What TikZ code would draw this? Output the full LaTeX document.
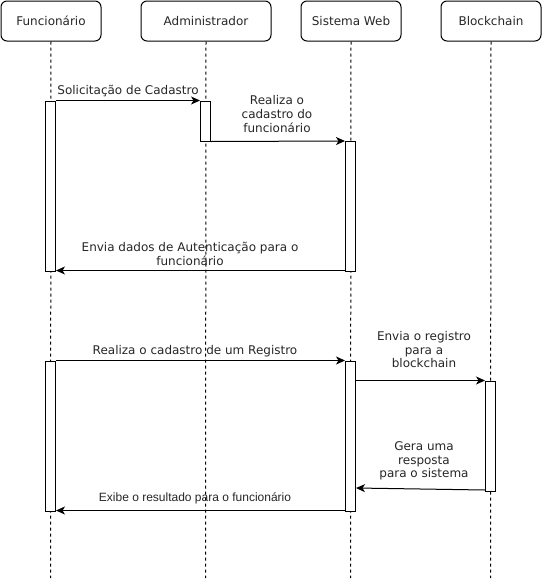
\documentclass[tikz,border=0pt]{standalone}
\usepackage{fontspec}
\setmainfont{DejaVu Sans}
\newfontfamily\arialfont{Liberation Sans}
\usetikzlibrary{arrows.meta,calc}
\begin{document}
\begin{tikzpicture}[x=1pt,y=-1pt,
  font=\fontsize{12}{14}\selectfont,
  header/.style={draw, line width=1pt, rounded corners=6pt, minimum width=100pt, minimum height=40pt, inner sep=0pt, anchor=north west, text=black!85},
  lifeline/.style={line width=1pt, dash pattern=on 3pt off 3pt},
  bar/.style={draw, fill=white, line width=1pt, minimum width=10pt, inner sep=0pt, anchor=north},
  msg/.style={line width=1pt, -{Stealth[length=9pt,width=8pt,inset=2.5pt]}},
  lbl/.style={inner sep=0pt, align=center, text=black!85}
]
\useasboundingbox (0,0) rectangle (541,581);
% headers
\node[header] (hf) at (0.5,0.5) {Funcionário};
\node[header, minimum width=130pt] (ha) at (140.5,0.5) {Administrador};
\node[header] (hs) at (300.5,0.5) {Sistema Web};
\node[header] (hb) at (440.5,0.5) {Blockchain};
% lifeline ends
\coordinate (ef) at (50.5,578);
\coordinate (ea) at (205.5,578);
\coordinate (es) at (350.5,578);
\coordinate (eb) at (490.5,578);
\draw[lifeline] (hf.south) -- (ef);
\draw[lifeline] (ha.south) -- (ea);
\draw[lifeline] (hs.south) -- (es);
\draw[lifeline] (hb.south) -- (eb);
% activation bars
\node[bar, minimum height=170pt] (f1) at (50.5,100.5) {};
\node[bar, minimum height=40pt] (a1) at (205.5,100.5) {};
\node[bar, minimum height=130pt] (s1) at (350.5,140.5) {};
\node[bar, minimum height=150pt] (f2) at (50.5,360.5) {};
\node[bar, minimum height=150pt] (s2) at (350.5,360.5) {};
\node[bar, minimum height=110pt] (b1) at (490.5,380.5) {};
% messages
\draw[msg] (f1.north east) -- (a1.north west);
\node[lbl] (l1) at (128,91) {Solicitação de Cadastro};
\draw[msg] (a1.south east) -- ($(s1.north west)+(0,0.5)$);
\node[lbl] (l2) at (277,114) {Realiza o\\cadastro do\\funcionário};
\draw[msg] ($(s1.south west)+(0,-1)$) -- ($(f1.south east)+(0,-1)$);
\node[lbl] (l3) at (190,254) {Envia dados de Autenticação para o\\funcionário};
\draw[msg] (f2.north east) -- (s2.north west);
\node[lbl] (l4) at (195,351) {Realiza o cadastro de um Registro};
\draw[msg] ($(s2.north east)+(0,20)$) -- (b1.north west);
\node[lbl, font=\fontsize{12}{13.5}\selectfont] (l5) at (424,350) {Envia o registro\\para a\\blockchain};
\draw[msg] ($(b1.south west)+(0,-1.5)$) -- ($(s2.north east)+(0,127.5)$);
\node[lbl, font=\fontsize{12}{13.5}\selectfont] (l6) at (424,461) {Gera uma\\resposta \\para o sistema};
\draw[msg] ($(s2.south west)+(0,-1)$) -- ($(f2.south east)+(0,-1)$);
\node[lbl, font=\arialfont\fontsize{12}{14}\selectfont] (l7) at (195,498) {Exibe o resultado para o funcionário};
\end{tikzpicture}
\end{document}
